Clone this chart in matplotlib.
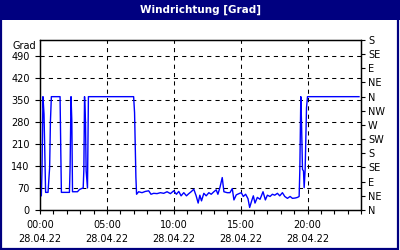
import matplotlib
matplotlib.use("Agg")
import matplotlib.pyplot as plt
from matplotlib.patches import Rectangle

title = "Windrichtung [Grad]"
date_label = "28.04.22"
hour_ticks = [0, 5, 10, 15, 20]
hour_labels = ["00:00", "05:00", "10:00", "15:00", "20:00"]
left_ticks = [0, 70, 140, 210, 280, 350, 420, 490]
right_ticks = [0, 45, 90, 135, 180, 225, 270, 315, 360, 405, 450, 495, 540]
right_labels = ["N", "NE", "E", "SE", "S", "SW", "W", "NW", "N", "NE", "E", "SE", "S"]

# time in hours, wind direction in degrees
times = [0.0, 0.1, 0.15, 0.22, 0.3, 0.35, 0.42, 0.6, 0.72, 0.78, 0.85,
         1.5, 1.55, 1.6, 2.2, 2.25, 2.32, 2.38, 2.43, 2.8, 2.95, 3.1, 3.23,
         3.28, 3.33, 3.4, 3.45, 3.55, 3.62,
         7.0, 7.07, 7.17, 7.22, 7.375, 7.625, 7.875, 8.125, 8.3, 8.5, 8.75,
         9.0, 9.25, 9.5, 9.75, 10.0, 10.2, 10.375, 10.55, 10.75, 10.95,
         11.125, 11.3, 11.5, 11.675, 11.825, 11.95, 12.075, 12.25, 12.425,
         12.625, 12.8, 13.0, 13.175, 13.3, 13.45, 13.625, 13.75, 14.0, 14.2,
         14.375, 14.5, 14.675, 14.875, 15.05, 15.2, 15.375, 15.55, 15.675,
         15.825, 15.95, 16.075, 16.25, 16.45, 16.675, 16.85, 17.0, 17.2,
         17.375, 17.55, 17.75, 17.925, 18.125, 18.3, 18.5, 18.7, 18.875,
         19.075, 19.25, 19.375, 19.425, 19.5, 19.55, 19.625, 19.7, 19.75,
         19.825, 19.925, 20.0, 23.85]
values = [45, 45, 124, 360, 305, 200, 56, 56, 135, 282, 360,
          360, 200, 56, 56, 135, 360, 282, 58, 58, 65, 68, 70,
          130, 360, 282, 124, 70, 360,
          360, 309, 104, 50, 58, 55, 59, 61, 50, 53, 52,
          55, 53, 58, 52, 61, 50, 59, 45, 55, 45,
          52, 58, 66, 45, 22, 47, 29, 53, 45,
          55, 50, 58, 64, 50, 71, 103, 58, 55, 55,
          68, 32, 48, 52, 55, 43, 50, 36, 8,
          29, 45, 22, 40, 34, 58, 32, 47, 43,
          50, 47, 53, 45, 55, 43, 37, 43, 37,
          38, 40, 43, 124, 360, 282, 129, 124, 71,
          129, 324, 360, 360]

NAVY = "#000080"
fig = plt.figure(figsize=(4.0, 2.5), dpi=100)
fig.patch.set_facecolor("white")

# title bar and border
fig.add_artist(Rectangle((0, 1 - 20 / 250), 1, 20 / 250, transform=fig.transFigure,
                         facecolor=NAVY, edgecolor="none", zorder=0))
fig.add_artist(Rectangle((0.002, 0.004), 0.994, 0.99, transform=fig.transFigure,
                         facecolor="none", edgecolor=NAVY, linewidth=1.6, zorder=5))
fig.text(0.5, 1 - 10 / 250, title, color="white", fontsize=7.5, fontweight="bold",
         ha="center", va="center", family="DejaVu Sans")

ax = fig.add_axes([40 / 400, 40 / 250, 321 / 400, 170 / 250])
ax.set_facecolor("white")
ax.plot(times, values, color="#0000ff", linewidth=1.0, zorder=3)

ax.set_xlim(0, 24)
ax.set_ylim(0, 540)

dash = (0, (4, 4))
for y in left_ticks[1:]:
    ax.axhline(y, color="black", linewidth=0.75, linestyle=dash, zorder=1)
for x in hour_ticks[1:]:
    ax.axvline(x, color="black", linewidth=0.75, linestyle=dash, zorder=1)

ax.set_yticks(left_ticks)
ax.set_yticklabels([str(v) for v in left_ticks])
ax.tick_params(axis="y", left=False, labelsize=7, pad=4)

ax.set_xticks(list(range(0, 25)), minor=True)
ax.set_xticks(hour_ticks)
ax.set_xticklabels([f"{h}\n{date_label}" for h in hour_labels], linespacing=1.55)
ax.tick_params(axis="x", which="both", direction="out", length=3, width=0.8,
               labelsize=7, pad=4)

ax.text(-0.012, 505, "Grad", transform=ax.get_yaxis_transform(), ha="right",
        va="bottom", fontsize=7)

ax2 = ax.twinx()
ax2.set_ylim(0, 540)
ax2.set_yticks(right_ticks)
ax2.set_yticklabels(right_labels)
ax2.tick_params(axis="y", direction="out", length=3, width=0.8, labelsize=7, pad=2)

for a in (ax, ax2):
    for s in a.spines.values():
        s.set_color("black")
        s.set_linewidth(0.9)

fig.savefig("out.png", dpi=100)
